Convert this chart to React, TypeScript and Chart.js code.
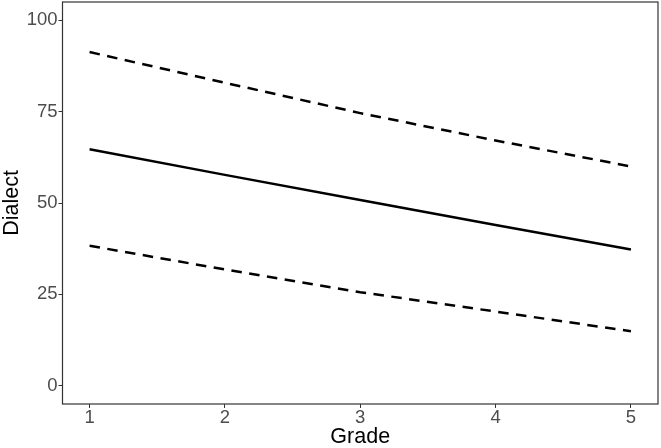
import React, { useEffect, useRef } from "react";
import { Chart, registerables } from "chart.js";

Chart.register(...registerables);

const grades = [1, 2, 3, 4, 5];
const fitValues = [64.7, 57.7, 50.8, 44.0, 37.3];
const upperValues = [91.3, 82.9, 74.6, 67.1, 60.0];
const lowerValues = [38.3, 31.8, 25.6, 20.3, 14.9];
const yTicks = [0, 25, 50, 75, 100];
const xTicks = [1, 2, 3, 4, 5];

const FONT = "'Liberation Sans', Arial, sans-serif";

const borderPlugin = {
  id: "panelBorder",
  afterDraw(chart: any) {
    const { ctx, chartArea } = chart;
    ctx.save();
    ctx.strokeStyle = "#333333";
    ctx.lineWidth = 1.2;
    ctx.strokeRect(chartArea.left, chartArea.top, chartArea.right - chartArea.left, chartArea.bottom - chartArea.top);
    ctx.restore();
  },
};

export default function App() {
  const ref = useRef<HTMLCanvasElement>(null);

  useEffect(() => {
    document.body.style.margin = "0";
    const toPts = (vals: number[]) => grades.map((g, i) => ({ x: g, y: vals[i] }));
    const chart = new Chart(ref.current!, {
      type: "line",
      data: {
        datasets: [
          {
            label: "Fit",
            data: toPts(fitValues),
            borderColor: "#000000",
            borderWidth: 2.5,
            pointRadius: 0,
            fill: false,
          },
          {
            label: "Upper",
            data: toPts(upperValues),
            borderColor: "#000000",
            borderWidth: 2.5,
            borderDash: [10.5, 7.5],
            pointRadius: 0,
            fill: false,
          },
          {
            label: "Lower",
            data: toPts(lowerValues),
            borderColor: "#000000",
            borderWidth: 2.5,
            borderDash: [10.5, 7.5],
            pointRadius: 0,
            fill: false,
          },
        ],
      },
      options: {
        animation: false,
        responsive: false,
        maintainAspectRatio: false,
        layout: { padding: { left: 0, right: 3, top: 2, bottom: 0 } },
        plugins: { legend: { display: false }, tooltip: { enabled: false } },
        scales: {
          x: {
            type: "linear",
            min: 0.8,
            max: 5.2,
            afterBuildTicks: (axis: any) => {
              axis.ticks = xTicks.map((v) => ({ value: v }));
            },
            afterFit: (axis: any) => {
              axis.height = 44;
              axis.paddingLeft = 0;
              axis.paddingRight = 0;
            },
            grid: { display: true, drawOnChartArea: false, drawTicks: true, tickLength: 4, color: "#333333" },
            border: { display: false },
            ticks: { color: "#4d4d4d", font: { family: FONT, size: 18.5, lineHeight: 1 }, padding: 1 },
            title: { display: true, text: "Grade", color: "#000000", font: { family: FONT, size: 21.5, lineHeight: 1 }, padding: { top: 5, bottom: 0 } },
          },
          y: {
            type: "linear",
            min: -5,
            max: 105,
            afterBuildTicks: (axis: any) => {
              axis.ticks = yTicks.map((v) => ({ value: v }));
            },
            afterFit: (axis: any) => {
              axis.width = 62.5;
              axis.paddingTop = 0;
              axis.paddingBottom = 0;
            },
            grid: { display: true, drawOnChartArea: false, drawTicks: true, tickLength: 4, color: "#333333" },
            border: { display: false },
            ticks: { color: "#4d4d4d", font: { family: FONT, size: 18.5 }, padding: 1 },
            title: { display: true, text: "Dialect", color: "#000000", font: { family: FONT, size: 21.5, lineHeight: 1 }, padding: { top: 1, bottom: 4 } },
          },
        },
      },
      plugins: [borderPlugin],
    } as any);
    return () => chart.destroy();
  }, []);

  return (
    <div style={{ width: 661, height: 448, background: "#ffffff" }}>
      <canvas ref={ref} width={661} height={448} style={{ display: "block" }} />
    </div>
  );
}
